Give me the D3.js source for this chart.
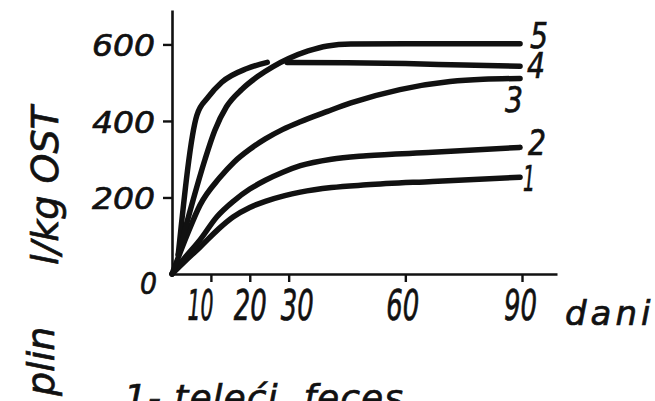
<!DOCTYPE html>
<html><head>
<meta charset="utf-8">
<script src="https://d3js.org/d3.v7.min.js"></script>
<style>
  body { margin: 0; background: #fff; }
  svg text { font-family: "DejaVu Sans", sans-serif; font-style: italic; fill: #111; stroke: #111; stroke-width: 0.7px; white-space: pre; }
  path.curve { fill: none; stroke: #111; stroke-width: 5.5px; stroke-linecap: round; stroke-linejoin: round; }
</style>
</head>
<body>
<svg id="chart" width="655" height="401"></svg>
<script>
// values (days -> litres of gas per kg OST)
const xTicks = [10, 20, 30, 60, 90];
const yTicks = [0, 200, 400, 600];

const days1 = [0, 3, 7.2, 12, 15.7, 20, 24, 29, 33, 41, 50, 67, 89.5];
const gas1  = [0, 30, 70, 118, 149, 174, 190, 205, 214, 226, 233, 242, 253];

const days2 = [0, 3.5, 7.2, 11.5, 16, 20, 24, 28.5, 33, 41, 50, 67, 89.5];
const gas2  = [0, 45, 89, 149, 192, 222, 245, 266, 283, 300, 309, 318, 331];

const days3 = [0, 3.8, 7.2, 12.3, 16, 20, 24, 28.5, 33, 40, 46, 58.6, 71.5, 80, 89.5];
const gas3  = [0, 100, 180, 252, 293, 326, 353, 378, 398, 425, 447, 482, 503, 509, 511];

// curve 4 is broken where curve 5 crosses it
const days4 = [1.6, 6.4, 9.3, 12.8, 19.3, 24.5, 27, 29.6, 45, 60, 75, 89.5];
const gas4  = [50, 415, 462, 501, 537, 553, null, 553, 552, 550, 546, 543];

const days5 = [1.6, 5, 8.5, 11, 14, 18, 22, 26, 30, 35, 40, 46, 60, 89.5];
const gas5  = [50, 178, 300, 375, 437, 483, 516, 542, 563, 583, 596, 601, 602, 602];

const curveNames = ["1", "2", "3", "4", "5"];

const svg = d3.select("#chart");

const x = d3.scaleLinear().domain([0, 99]).range([172, 557]);
const y = d3.scaleLinear().domain([0, 690]).range([274, 10]);

const series = [
  { name: curveNames[0], days: days1, gas: gas1 },
  { name: curveNames[1], days: days2, gas: gas2 },
  { name: curveNames[2], days: days3, gas: gas3 },
  { name: curveNames[3], days: days4, gas: gas4 },
  { name: curveNames[4], days: days5, gas: gas5 }
];
series.forEach(s => { s.points = s.days.map((d, i) => [d, s.gas[i]]); });

// axes
const xAxis = svg.append("g")
  .attr("transform", `translate(0,${y(0)})`)
  .call(d3.axisBottom(x).tickValues(xTicks).tickSize(8).tickSizeOuter(0));
const yAxis = svg.append("g")
  .attr("transform", `translate(${x(0)},0)`)
  .call(d3.axisLeft(y).tickValues(yTicks).tickSize(9).tickSizeOuter(0));

[xAxis, yAxis].forEach(a => {
  a.select(".domain").attr("stroke", "#111").attr("stroke-width", 2.6);
  a.selectAll(".tick line").attr("stroke", "#111").attr("stroke-width", 2.4);
});

// hand-lettered labels sit a little off their ticks
const xLabelShift = { 10: -11, 20: 0, 30: 8, 60: -3, 90: -2 };
xAxis.selectAll(".tick text")
  .attr("x", d => xLabelShift[d])
  .attr("y", 46).attr("dy", 0)
  .attr("font-size", 42)
  .attr("textLength", d => d === 10 ? 26 : 33)
  .attr("lengthAdjust", "spacingAndGlyphs");

yAxis.selectAll(".tick text")
  .attr("x", -17)
  .attr("font-size", 31)
  .attr("dy", "0.36em")
  .attr("textLength", d => d === 0 ? 17 : 63)
  .attr("lengthAdjust", "spacingAndGlyphs");
// the zero sits below the corner, with no tick mark
yAxis.selectAll(".tick").filter(d => d === 0).select("line").remove();
yAxis.selectAll(".tick").filter(d => d === 0).select("text").attr("x", -15).attr("dy", "0.62em");

// curves
const line = d3.line()
  .defined(d => d[1] !== null)
  .x(d => x(d[0]))
  .y(d => y(d[1]))
  .curve(d3.curveMonotoneX);

svg.selectAll("path.curve").data(series).join("path")
  .attr("class", "curve")
  .attr("d", d => line(d.points));

// curve number labels at the right ends
const labelShift = { "1": [3, 14], "2": [8, 8], "3": [-15, 34], "4": [7, 12], "5": [10, 4] };
svg.selectAll("text.curve-label").data(series).join("text")
  .attr("class", "curve-label")
  .attr("font-size", 35)
  .attr("textLength", d => d.name === "1" ? 12 : 18)
  .attr("lengthAdjust", "spacingAndGlyphs")
  .attr("x", d => {
    const p = d.points.filter(q => q[1] !== null);
    return x(p[p.length - 1][0]) + labelShift[d.name][0];
  })
  .attr("y", d => {
    const p = d.points.filter(q => q[1] !== null);
    return y(p[p.length - 1][1]) + labelShift[d.name][1];
  })
  .text(d => d.name);

// axis titles
svg.append("text")
  .attr("x", 565).attr("y", 325)
  .attr("font-size", 34)
  .attr("letter-spacing", 4)
  .text("dani");

svg.append("text")
  .attr("transform", "translate(58,265) rotate(-90)")
  .attr("font-size", 38)
  .text("l/kg OST");

svg.append("text")
  .attr("transform", "translate(54,396) rotate(-90)")
  .attr("font-size", 38)
  .text("plin");

// legend, cut off by the bottom edge
svg.append("text")
  .attr("x", 124).attr("y", 410)
  .attr("font-size", 36)
  .attr("letter-spacing", 1)
  .text("1- teleći  feces");
</script>
</body>
</html>
